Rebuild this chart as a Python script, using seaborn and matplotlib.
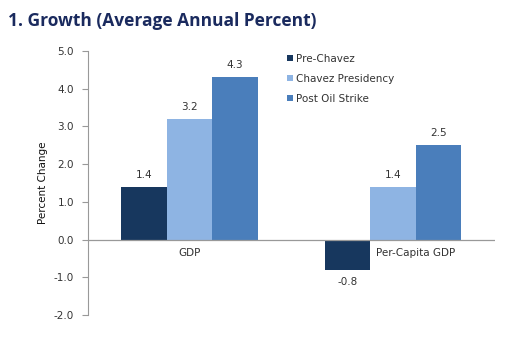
import matplotlib
matplotlib.use("Agg")
import matplotlib.pyplot as plt
import seaborn as sns
import pandas as pd

categories = ["GDP", "Per-Capita GDP"]
periods = ["Pre-Chavez", "Chavez Presidency", "Post Oil Strike"]
pre_chavez = [1.4, -0.8]
chavez_presidency = [3.2, 1.4]
post_oil_strike = [4.3, 2.5]
y_ticks = [-2.0, -1.0, 0.0, 1.0, 2.0, 3.0, 4.0, 5.0]

colors = ["#17375E", "#8EB4E3", "#4A7EBB"]
text_color = "#333333"

df = pd.DataFrame({
    "category": categories * 3,
    "period": [p for p in periods for _ in categories],
    "value": pre_chavez + chavez_presidency + post_oil_strike,
})

sns.set_theme(style="white")
plt.rcParams["font.family"] = ["DejaVu Sans"]

fig = plt.figure(figsize=(5.26, 3.47), dpi=100)
ax = fig.add_axes([0.167, 0.092, 0.774, 0.761])

sns.barplot(data=df, x="category", y="value", hue="period", hue_order=periods,
            order=categories, palette=colors, width=0.67, saturation=1,
            errorbar=None, ax=ax, linewidth=0)

for cont in ax.containers:
    ax.bar_label(cont, fmt="%.1f", padding=5, fontsize=7.5, color=text_color)

ax.set_ylim(-2.0, 5.0)
ax.set_xlim(-0.5, 1.5)
ax.set_yticks(y_ticks)
ax.set_yticklabels([f"{t:.1f}" for t in y_ticks], fontsize=7.5, color=text_color)
ax.tick_params(axis="y", which="major", left=True, length=4, width=0.8,
               color="#999999", pad=6)

# Category names sit just under the zero line
ax.set_xticks([])
ax.set_xlabel("")
label_offsets = [0.0, 0.11]
for i, (name, off) in enumerate(zip(categories, label_offsets)):
    ax.text(i + off, -0.22, name, ha="center", va="top", fontsize=7.5,
            color=text_color)

ax.axhline(0, color="#999999", linewidth=0.9, zorder=3)

for side in ["top", "right", "bottom"]:
    ax.spines[side].set_visible(False)
ax.spines["left"].set_color("#999999")
ax.spines["left"].set_linewidth(0.8)

ax.set_ylabel("Percent Change", fontsize=7.5, color="#111111", labelpad=4)

handles, labels = ax.get_legend_handles_labels()
leg = ax.legend(handles, labels, loc="upper left", bbox_to_anchor=(0.48, 1.005),
                frameon=False, fontsize=7.5, handlelength=0.55, handleheight=0.55,
                handletextpad=0.25, labelspacing=0.95, borderaxespad=0)
for t in leg.get_texts():
    t.set_color(text_color)

fig.text(0.015, 0.94, "1. Growth (Average Annual Percent)",
         fontsize=12.5, fontweight="bold", color="#1A2A5E",
         family=["Open Sans", "DejaVu Sans"], va="center")

fig.savefig("out.png", dpi=100)
